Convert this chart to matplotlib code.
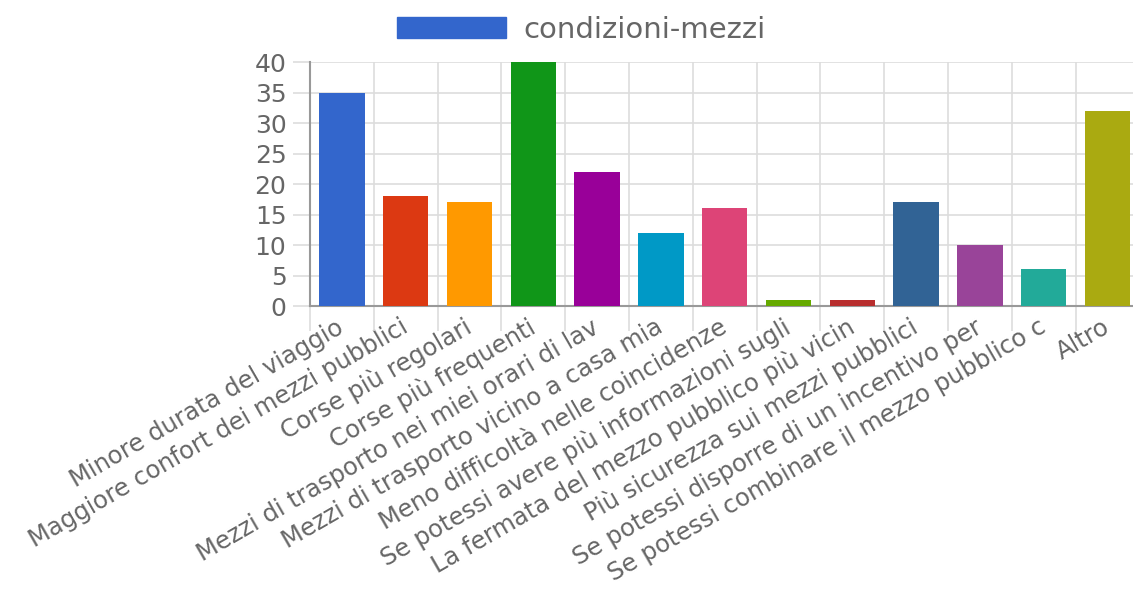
import matplotlib
matplotlib.use("Agg")
import matplotlib.pyplot as plt
from matplotlib.patches import Patch

# Data
categories = [
    "Minore durata del viaggio",
    "Maggiore confort dei mezzi pubblici",
    "Corse più regolari",
    "Corse più frequenti",
    "Mezzi di trasporto nei miei orari di lav",
    "Mezzi di trasporto vicino a casa mia",
    "Meno difficoltà nelle coincidenze",
    "Se potessi avere più informazioni sugli",
    "La fermata del mezzo pubblico più vicin",
    "Più sicurezza sui mezzi pubblici",
    "Se potessi disporre di un incentivo per",
    "Se potessi combinare il mezzo pubblico c",
    "Altro",
]
values = [35, 18, 17, 40, 22, 12, 16, 1, 1, 17, 10, 6, 32]
colors = ["#3366cc", "#dc3912", "#ff9900", "#109618", "#990099", "#0099c6",
          "#dd4477", "#66aa00", "#b82e2e", "#316395", "#994499", "#22aa99",
          "#aaaa11"]
series_name = "condizioni-mezzi"
yticks = [0, 5, 10, 15, 20, 25, 30, 35, 40]

text_col = "#666666"
grid_col = "#dddddd"

fig = plt.figure(figsize=(11.33, 6.08), dpi=100)
ax = fig.add_axes([0.2736, 0.4967, 0.7320, 0.4013])

x = list(range(len(categories)))
ax.bar(x, values, width=0.71, color=colors, zorder=3)

ax.set_xlim(-0.5, len(categories) - 0.5)
ax.set_ylim(0, 40)

# gridlines at category boundaries
bounds = [i - 0.5 for i in range(len(categories) + 1)]
ax.set_xticks(bounds, minor=True)
ax.set_xticks(x)
ax.set_xticklabels(categories, rotation=30, ha="right", va="center",
                   rotation_mode="anchor", fontsize=17.5, color=text_col)
ax.tick_params(axis="x", which="major", length=0, pad=14)
ax.tick_params(axis="x", which="minor", length=18, color=grid_col, width=1.2)
ax.grid(True, which="minor", axis="x", color=grid_col, linewidth=1.2, zorder=0)

ax.set_yticks(yticks)
ax.set_yticklabels([str(t) for t in yticks], fontsize=18, color=text_col)
ax.tick_params(axis="y", length=12, color=grid_col, width=1.2, pad=5)
ax.grid(True, which="major", axis="y", color=grid_col, linewidth=1.2, zorder=0)

for s in ["top", "right"]:
    ax.spines[s].set_visible(False)
for s in ["left", "bottom"]:
    ax.spines[s].set_color("#999999")
    ax.spines[s].set_linewidth(1.5)

handle = Patch(facecolor="#3366cc", edgecolor="#3366cc")
fig.legend([handle], [series_name], loc="center", bbox_to_anchor=(0.513, 0.951),
           frameon=False, fontsize=21, handlelength=3.75, handleheight=0.75,
           handletextpad=0.6, labelcolor=text_col)

fig.savefig("out.png", dpi=100)
